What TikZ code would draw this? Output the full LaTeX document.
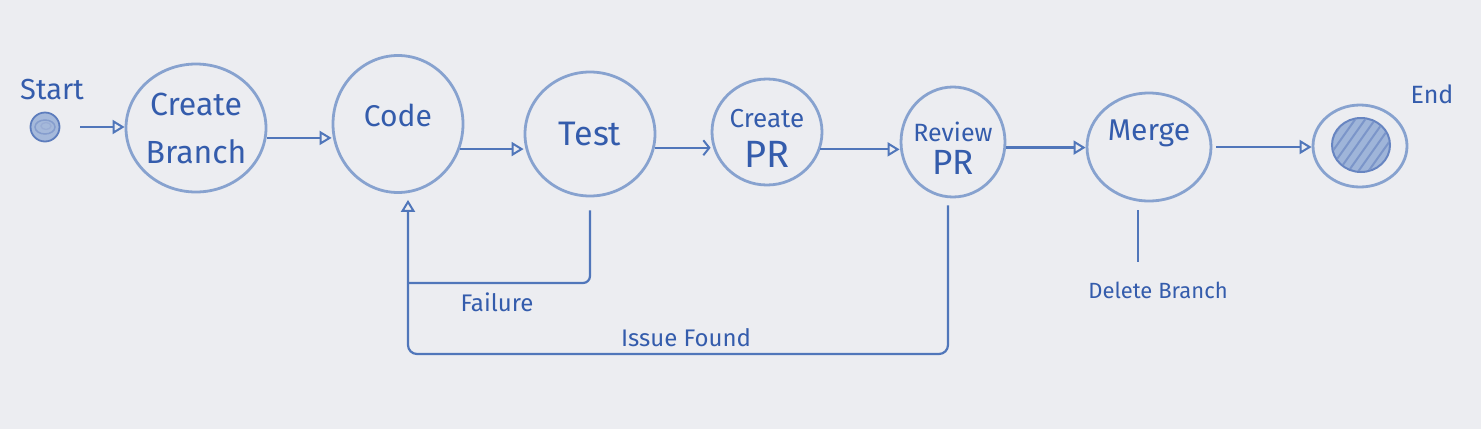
\documentclass[tikz,border=0pt]{standalone}
\usepackage{fontspec}
\setmainfont{Fira Sans}
\usetikzlibrary{shapes.geometric,arrows.meta,calc}
\definecolor{board}{RGB}{236,237,241}
\definecolor{ink}{RGB}{52,92,172}
\definecolor{rim}{RGB}{135,162,207}
\definecolor{wire}{RGB}{80,118,186}
\begin{document}
\begin{tikzpicture}[x=1pt,y=-1pt,
  stage/.style={ellipse, draw=rim, line width=2.8pt, inner sep=0pt},
  big/.style={text=ink, align=center, font=\fontsize{30}{44}\selectfont},
  small/.style={text=ink, font=\fontsize{23}{26}\selectfont},
  wireline/.style={draw=wire, line width=2.2pt},
  flow/.style={wireline, -{Triangle[open,length=12pt,width=14pt,line width=2pt]}},
  barb/.style={wireline, -{Straight Barb[length=6pt,width=15pt,line width=2pt]}},
]
\fill[board] (0,0) rectangle (1481,429);
\useasboundingbox (0,0) rectangle (1481,429);

% start
\node[circle, draw=ink!80, fill=rim!75, line width=1.8pt, minimum size=29pt, inner sep=0pt] (start) at (45,127) {};
\draw[ink!60, line width=1.5pt] (45,127) ellipse (10 and 7);
\draw[ink!50, line width=1.3pt] (46,126) ellipse (5 and 3.5);
\node[small, font=\fontsize{29}{32}\selectfont] (startlbl) at (52,90) {Start};

% stages
\node[stage, minimum width=140pt, minimum height=128pt,
      label={[big, font=\fontsize{32}{48}\selectfont]center:{Create\\Branch}}] (cb) at (196,128) {};
\node[stage, minimum width=130pt, minimum height=137pt,
      label={[big, yshift=9pt]center:Code}] (code) at (398,124) {};
\node[stage, minimum width=130pt, minimum height=124pt,
      label={[big, font=\fontsize{34}{40}\selectfont]center:Test}] (test) at (590,134) {};
\node[stage, minimum width=110pt, minimum height=106pt,
      label={[big, yshift=-6pt, font=\fontsize{26}{40}\selectfont]center:{Create\\{\fontsize{38}{40}\selectfont PR}}}] (cpr) at (767,132) {};
\node[stage, minimum width=104pt, minimum height=110pt,
      label={[big, yshift=-6pt, font=\fontsize{25}{33}\selectfont]center:{Review\\{\fontsize{35}{33}\selectfont PR}}}] (rpr) at (953,142) {};
\node[stage, minimum width=124pt, minimum height=108pt,
      label={[big, yshift=14pt, font=\fontsize{30}{40}\selectfont]center:Merge}] (merge) at (1149,147) {};

% end
\node[stage, minimum width=94pt, minimum height=82pt] (end) at (1360,146) {};
\node[ellipse, draw=ink!75, fill=rim!80, line width=2pt, minimum width=58pt, minimum height=54pt, inner sep=0pt] (endin) at (1361,145) {};
\begin{scope}
  \clip (1361,145) ellipse (28 and 26);
  \foreach \i in {-44,-34,...,44}
    \draw[ink!65, line width=2pt] (1361+\i-22,176) -- (1361+\i+22,114);
\end{scope}
\node[small, font=\fontsize{25}{28}\selectfont] (endlbl) at (1432,94) {End};

% main flow
\draw[flow, shorten <=20pt] (start.east) -- (cb.west |- start.east);
\draw[flow] (cb.-8) -- (code.west |- cb.-8);
\draw[flow] (code.-22) -- (test.west |- code.-22);
\draw[barb] (test.-12) -- (cpr.west |- test.-12);
\draw[flow] (cpr.-18) -- (rpr.west |- cpr.-18);
\draw[flow] (rpr.-6) -- (merge.west |- rpr.-6);
\draw[flow, shorten <=4pt] (merge.east) -- (end.west |- merge.east);

% loops back to Code
\coordinate (cin) at ([xshift=10pt,yshift=-6pt]code.south);
\draw[wireline, rounded corners=7pt] ([yshift=-13pt]test.south) |- (408,283);
\draw[flow, rounded corners=9pt] ([xshift=-5pt,yshift=-7pt]rpr.south) |- (408,354) -- (cin);
\node[small, font=\fontsize{24}{26}\selectfont] (fail) at (497,302) {Failure};
\node[small, font=\fontsize{24}{26}\selectfont] (issue) at (686,338) {Issue Found};

% delete branch
\node[small, font=\fontsize{22}{26}\selectfont] (del) at (1158,290) {Delete Branch};
\coordinate (dtop) at ([xshift=-11pt,yshift=-8pt]merge.south);
\draw[wireline, shorten >=16pt] (dtop) -- (dtop |- del.north);
\end{tikzpicture}
\end{document}
